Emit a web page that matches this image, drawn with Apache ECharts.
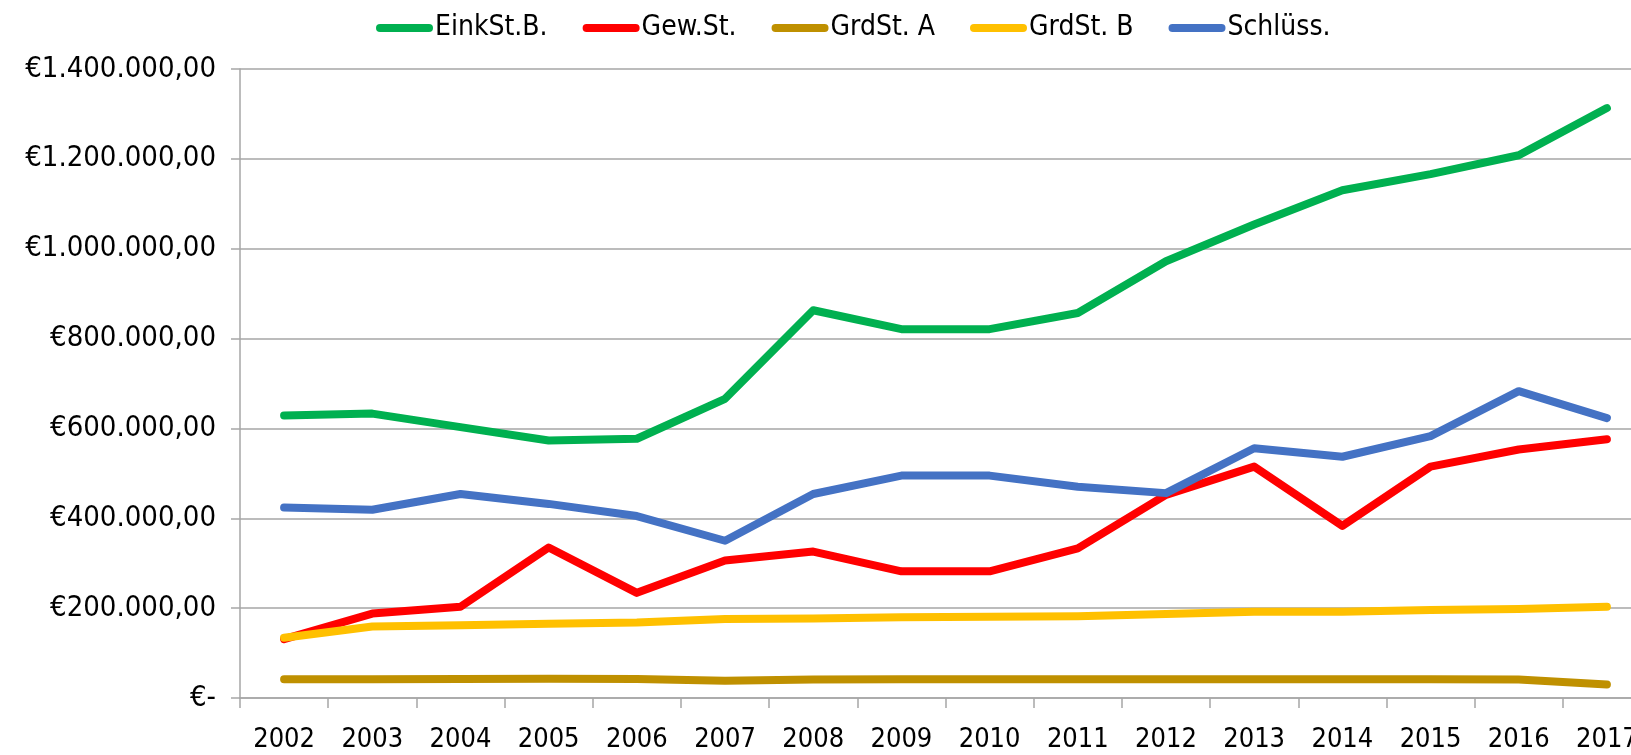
<!DOCTYPE html>
<html>
<head>
<meta charset="UTF-8">
<title>Steuereinnahmen</title>
<script src="https://cdn.jsdelivr.net/npm/echarts@6/dist/echarts.min.js"></script>
<style>
  html, body { margin: 0; padding: 0; overflow: hidden; background: #fff; }
  #main { width: 1651px; height: 755px; }
</style>
</head>
<body>
<div id="main"></div>
<script type="text/javascript">
var years = ['2002', '2003', '2004', '2005', '2006', '2007', '2008', '2009',
             '2010', '2011', '2012', '2013', '2014', '2015', '2016', '2017'];
var einkSt = [629000, 633000, 603000, 573000, 577000, 666000, 863000, 821000,
              821000, 857000, 972000, 1054000, 1130000, 1166000, 1208000, 1313000];
var gewSt = [131000, 188000, 203000, 335000, 234000, 306000, 326000, 282000,
             282000, 333000, 452000, 515000, 383000, 515000, 553000, 576000];
var grdStA = [42000, 42000, 42500, 43000, 42500, 38500, 41000, 42000,
              42000, 42000, 42000, 42000, 42000, 41500, 41000, 30000];
var grdStB = [134000, 159000, 162000, 165000, 168000, 176000, 177000, 180000,
              181000, 182000, 187000, 192000, 192000, 196000, 198000, 203000];
var schluess = [424000, 419000, 454000, 432000, 405000, 350000, 454000, 495000,
                495000, 470000, 456000, 556000, 537000, 583000, 683000, 623000];

var fontFam = "'DejaVu Sans Condensed', 'Liberation Sans Narrow', 'DejaVu Sans', sans-serif";
var gray = '#a6a6a6';

// 1400000 -> "€1.400.000,00", 0 -> "€-"
function euro(v) {
    if (v === 0) return '€-';
    var s = String(Math.round(v)).replace(/\B(?=(\d{3})+(?!\d))/g, '.');
    return '€' + s + ',00';
}

function makeLine(name, data, color) {
    return {
        name: name,
        type: 'line',
        data: data,
        symbol: 'none',
        lineStyle: { color: color, width: 8, cap: 'round', join: 'round' },
        itemStyle: { color: color },
        emphasis: { disabled: true }
    };
}

var chart = echarts.init(document.getElementById('main'));

chart.setOption({
    animation: false,
    textStyle: { fontFamily: fontFam, color: '#000' },
    legend: {
        left: 371,
        top: 9,
        itemWidth: 57,
        itemHeight: 8,
        itemGap: 35,
        icon: 'path://M4,0 L53,0 A4,4 0 0 1 53,8 L4,8 A4,4 0 0 1 4,0 Z',
        textStyle: { fontSize: 28, fontFamily: fontFam, color: '#000', padding: [0, 0, 0, -3] }
    },
    grid: { left: 240, right: 0, top: 69, bottom: 57 },
    xAxis: {
        type: 'category',
        data: years,
        boundaryGap: true,
        axisLine: { lineStyle: { color: gray, width: 1.5 } },
        axisTick: { show: true, length: 10, lineStyle: { color: gray, width: 1.5 } },
        axisLabel: { fontSize: 27, color: '#000', margin: 28, fontFamily: fontFam }
    },
    yAxis: {
        type: 'value',
        min: 0,
        max: 1400000,
        interval: 200000,
        axisLine: { show: true, lineStyle: { color: gray, width: 1.5 } },
        axisTick: { show: true, length: 9, lineStyle: { color: gray, width: 1.5 } },
        splitLine: { lineStyle: { color: gray, width: 1.5 } },
        axisLabel: { fontSize: 29, color: '#000', margin: 24, fontFamily: fontFam, formatter: euro }
    },
    series: [
        makeLine('EinkSt.B.', einkSt, '#00b050'),
        makeLine('Gew.St.', gewSt, '#ff0000'),
        makeLine('GrdSt. A', grdStA, '#bf9000'),
        makeLine('GrdSt. B', grdStB, '#ffc000'),
        makeLine('Schlüss.', schluess, '#4472c4')
    ]
});
</script>
</body>
</html>
